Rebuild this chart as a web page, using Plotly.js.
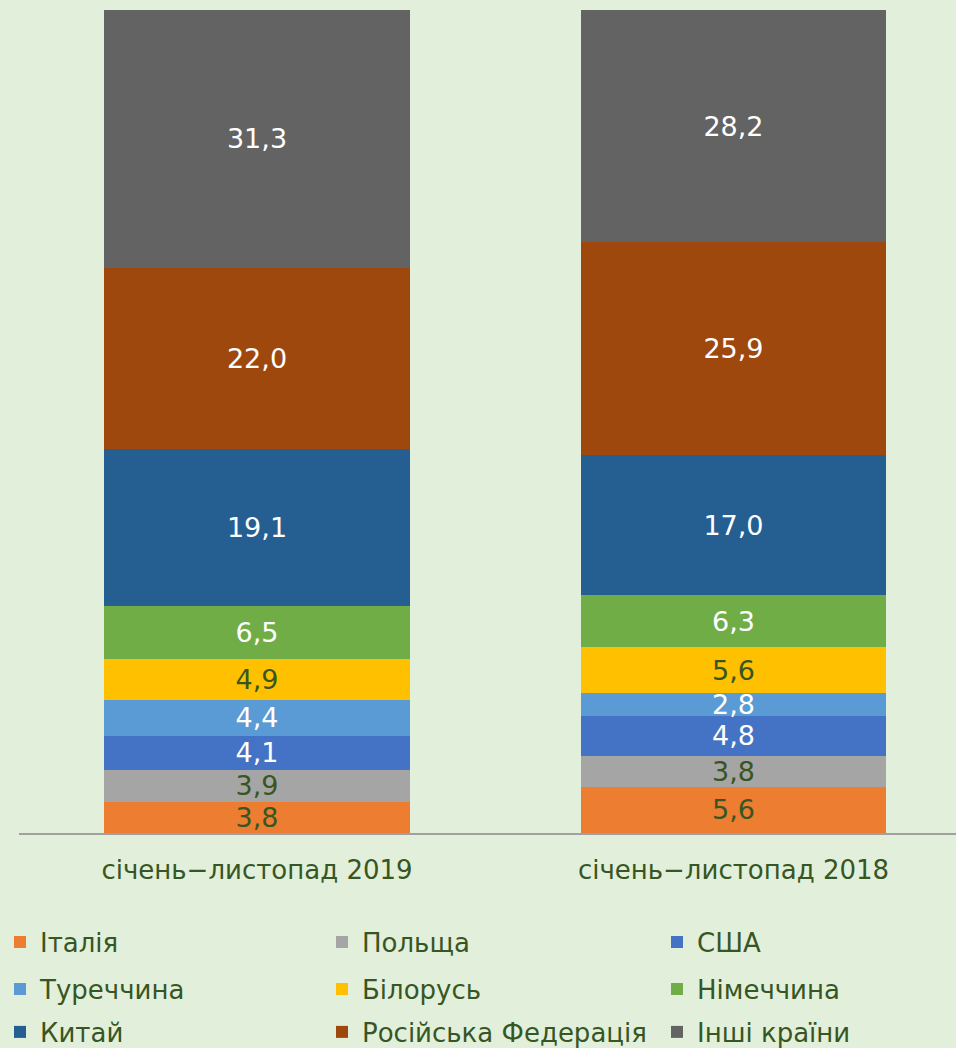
<!DOCTYPE html>
<html>
<head>
<meta charset="utf-8">
<script src="https://cdn.plot.ly/plotly-3.0.1.min.js"></script>
<style>html,body{margin:0;padding:0;background:#E2EFDA;}</style>
</head>
<body>
<div id="chart" style="width:956px;height:1048px;"></div>
<script>
const periods = ['січень−листопад 2019', 'січень−листопад 2018'];
const countries = ['Італія', 'Польща', 'США', 'Туреччина', 'Білорусь', 'Німеччина', 'Китай', 'Російська Федерація', 'Інші країни'];
const italy   = [3.8, 5.6];
const poland  = [3.9, 3.8];
const usa     = [4.1, 4.8];
const turkey  = [4.4, 2.8];
const belarus = [4.9, 5.6];
const germany = [6.5, 6.3];
const china   = [19.1, 17.0];
const russia  = [22.0, 25.9];
const others  = [31.3, 28.2];

const seriesValues = [italy, poland, usa, turkey, belarus, germany, china, russia, others];
const colors = ['#ED7D31', '#A5A5A5', '#4472C4', '#5B9BD5', '#FFC000', '#70AD47', '#255E91', '#9E480E', '#636363'];
const labelColors = ['#375623', '#375623', '#FFFFFF', '#FFFFFF', '#375623', '#FFFFFF', '#FFFFFF', '#FFFFFF', '#FFFFFF'];

const FONT = 'DejaVu Sans, Verdana, sans-serif';
const TXT = '#375623';

// legend grid: 3 columns x 3 rows
const colLeft = [0, 322, 657];
const rowCenter = [942, 989, 1032];

const data = seriesValues.map((vals, i) => ({
  type: 'bar',
  name: countries[i],
  x: periods,
  y: vals,
  marker: {color: colors[i], line: {width: 0}},
  texttemplate: '%{y:.1f}',
  textposition: 'inside',
  insidetextanchor: 'middle',
  textangle: 0,
  constraintext: 'none',
  textfont: {family: FONT, size: 27, color: labelColors[i]},
  hoverinfo: 'skip',
  legend: i === 0 ? 'legend' : 'legend' + (i + 1)
}));

const layout = {
  width: 956, height: 1048,
  paper_bgcolor: '#E2EFDA', plot_bgcolor: '#E2EFDA',
  separators: ', ',
  margin: {l: 19, r: 0, t: 10, b: 215},
  barmode: 'stack',
  bargap: 0.358,
  showlegend: true,
  xaxis: {
    range: [-0.4995, 1.467],
    showline: true, linecolor: '#A0A0A0', linewidth: 2,
    ticks: '', showgrid: false, zeroline: false,
    tickfont: {family: FONT, size: 26, color: TXT},
    ticklabelstandoff: 13
  },
  yaxis: {
    range: [0, 100], visible: false, fixedrange: true
  },
  font: {family: FONT, color: TXT}
};

countries.forEach((c, i) => {
  const key = i === 0 ? 'legend' : 'legend' + (i + 1);
  layout[key] = {
    orientation: 'h',
    xref: 'container', x: colLeft[i % 3] / 956, xanchor: 'left',
    yref: 'container', y: 1 - rowCenter[Math.floor(i / 3)] / 1048, yanchor: 'middle',
    bgcolor: 'rgba(0,0,0,0)',
    font: {family: FONT, size: 26, color: TXT},
    itemclick: false, itemdoubleclick: false
  };
});

Plotly.newPlot('chart', data, layout, {displayModeBar: false, staticPlot: true});
</script>
</body>
</html>
